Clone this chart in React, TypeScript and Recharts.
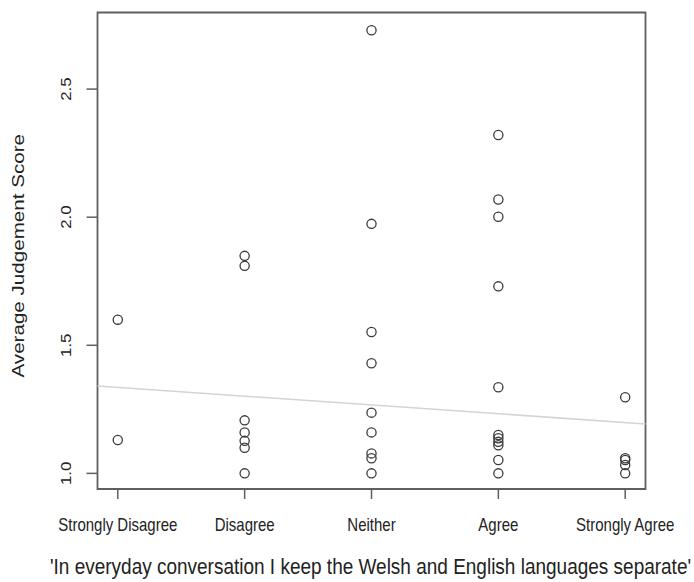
import React from 'react';
import { ScatterChart, Scatter, XAxis, YAxis, ReferenceLine, ReferenceArea, Label } from 'recharts';

const categories = ['Strongly Disagree', 'Disagree', 'Neither', 'Agree', 'Strongly Agree'];
const stronglyDisagreeScores = [1.6, 1.13];
const disagreeScores = [1.849, 1.81, 1.207, 1.16, 1.127, 1.1, 1.0];
const neitherScores = [2.73, 1.974, 1.552, 1.43, 1.237, 1.16, 1.078, 1.059, 1.0];
const agreeScores = [2.321, 2.069, 2.002, 1.73, 1.336, 1.15, 1.137, 1.123, 1.11, 1.052, 1.0];
const stronglyAgreeScores = [1.297, 1.059, 1.052, 1.033, 1.0];
const yTicks = [1.0, 1.5, 2.0, 2.5];
const xTicks = [1, 2, 3, 4, 5];
const fitIntercept = 1.37;
const fitSlope = -0.0343;

const xDomain: [number, number] = [0.84, 5.16];
const yDomain: [number, number] = [0.939, 2.799];

const groups = [stronglyDisagreeScores, disagreeScores, neitherScores, agreeScores, stronglyAgreeScores];
const points = groups.flatMap((g, i) => g.map((y) => ({ x: i + 1, y })));

const FONT = '"Liberation Sans", Arial, Helvetica, sans-serif';
const TEXT = '#222';
const AXIS = '#5f5f5f';
const STRETCH = 1.2;

const Circle = (props: any) => {
  const { cx, cy } = props;
  return <circle cx={cx} cy={cy} r={4.6} fill="none" stroke="#3a3a3a" strokeWidth={1.3} />;
};

const XTick = (props: any) => {
  const { x, y, payload } = props;
  return (
    <text
      transform={`translate(${x} ${y + 30}) scale(1 ${STRETCH})`}
      textAnchor="middle"
      fontFamily={FONT}
      fontSize={15}
      fill={TEXT}
    >
      {categories[payload.value - 1]}
    </text>
  );
};

const YTick = (props: any) => {
  const { x, y, payload } = props;
  const tx = x - 13.5;
  return (
    <text
      transform={`translate(${tx} ${y}) scale(1 ${STRETCH}) rotate(-90)`}
      textAnchor="middle"
      fontFamily={FONT}
      fontSize={14}
      fill={TEXT}
    >
      {payload.value.toFixed(1)}
    </text>
  );
};

export default function App() {
  return (
    <div style={{ position: 'absolute', left: 0, top: 0, background: '#fff' }}>
      <ScatterChart width={694} height={582} margin={{ top: 12.5, right: 48.5, bottom: 0, left: 0 }}>
        <XAxis
          type="number"
          dataKey="x"
          domain={xDomain}
          ticks={xTicks}
          allowDataOverflow
          axisLine={false}
          tickLine={{ stroke: AXIS, strokeWidth: 1.5 }}
          tickSize={10}
          height={93}
          tick={<XTick />}
          interval={0}
        >
          <Label
            content={(p: any) => {
              const vb = p.viewBox;
              const cx = vb.x + vb.width / 2 - 1;
              return (
                <text
                  transform={`translate(${cx} 574) scale(1 ${STRETCH})`}
                  textAnchor="middle"
                  fontFamily={FONT}
                  fontSize={19}
                  fill={TEXT}
                >
                  'In everyday conversation I keep the Welsh and English languages separate'
                </text>
              );
            }}
          />
        </XAxis>
        <YAxis
          type="number"
          dataKey="y"
          domain={yDomain}
          ticks={yTicks}
          allowDataOverflow
          axisLine={false}
          tickLine={{ stroke: AXIS, strokeWidth: 1.5 }}
          tickSize={11}
          width={97.5}
          tick={<YTick />}
          interval={0}
        >
          <Label
            content={(p: any) => {
              const vb = p.viewBox;
              const cy = vb.y + vb.height / 2 + 5;
              return (
                <text
                  transform={`translate(24 ${cy}) scale(1 ${STRETCH + 0.05}) rotate(-90)`}
                  textAnchor="middle"
                  fontFamily={FONT}
                  fontSize={16.5}
                  fill={TEXT}
                >
                  Average Judgement Score
                </text>
              );
            }}
          />
        </YAxis>
        <ReferenceArea
          x1={xDomain[0]}
          x2={xDomain[1]}
          y1={yDomain[0]}
          y2={yDomain[1]}
          fill="none"
          fillOpacity={0}
          stroke={AXIS}
          strokeWidth={1.8}
          ifOverflow="visible"
        />
        <ReferenceLine
          segment={[
            { x: xDomain[0], y: fitIntercept + fitSlope * xDomain[0] },
            { x: xDomain[1], y: fitIntercept + fitSlope * xDomain[1] },
          ]}
          stroke="#d4d4d4"
          strokeWidth={1.6}
          ifOverflow="visible"
        />
        <Scatter data={points} shape={<Circle />} isAnimationActive={false} />
      </ScatterChart>
    </div>
  );
}
